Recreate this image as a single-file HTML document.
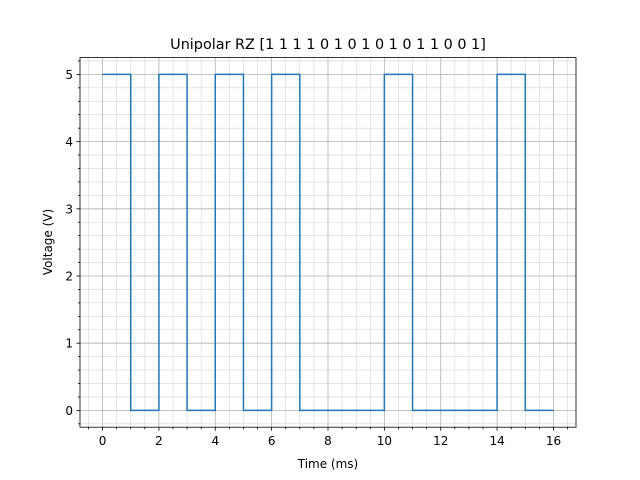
<!DOCTYPE html>
<html><head><meta charset="utf-8"><style>body{margin:0;background:#fff}svg{display:block;font-family:"DejaVu Sans","Liberation Sans",sans-serif}</style></head>
<body>
<svg id="chart" width="640" height="480" viewBox="0 0 640 480" xmlns="http://www.w3.org/2000/svg">
<rect width="640" height="480" fill="#fff"/>
<g id="grid"></g>
<path id="signal" fill="none" stroke="#1f77b4" stroke-width="1.5"/>
<rect x="80" y="57.6" width="496" height="369.6" fill="none" stroke="#000" stroke-width="0.8"/>
<g id="ticks"></g>
<text x="328" y="49" font-size="14.4" text-anchor="middle">Unipolar RZ [1 1 1 1 0 1 0 1 0 1 0 1 1 0 0 1]</text>
<text x="328" y="468" font-size="12" text-anchor="middle">Time (ms)</text>
<text transform="translate(52,242) rotate(-90)" font-size="12" text-anchor="middle">Voltage (V)</text>
</svg>
<script>
const segmentValues = [5,0,5,0,5,0,5,0,0,0,5,0,0,0,5,0];
const xTicks = [0,2,4,6,8,10,12,14,16];
const yTicks = [0,1,2,3,4,5];
const NS='http://www.w3.org/2000/svg';
const X0=80,X1=576,Y0=427.2,Y1=57.6,xmin=-0.8,xmax=16.8,ymin=-0.25,ymax=5.25;
const sx=v=>X0+(v-xmin)/(xmax-xmin)*(X1-X0);
const sy=v=>Y0-(v-ymin)/(ymax-ymin)*(Y0-Y1);
function mk(tag,attrs,parent){const e=document.createElementNS(NS,tag);for(const k in attrs)e.setAttribute(k,attrs[k]);parent.appendChild(e);return e;}
const grid=document.getElementById('grid'),ticks=document.getElementById('ticks');
for(let v=-0.5;v<=16.6;v+=0.5){const x=sx(v);const major=Math.abs(v/2-Math.round(v/2))<1e-6;
 const l=mk('line',{x1:x,x2:x,y1:Y1,y2:Y0,stroke:major?'#b0b0b0':'#d4d4d4','stroke-width':major?0.8:0.6},grid);
 
 
 const t=mk('line',{x1:x,x2:x,y1:Y0,y2:Y0+(major?3.5:2),stroke:'#000','stroke-width':0.8},ticks);
 
 }
for(let v=-0.2;v<=5.21;v+=0.2){const y=sy(v);const major=Math.abs(v-Math.round(v))<1e-6;
 const l=mk('line',{x1:X0,x2:X1,y1:y,y2:y,stroke:major?'#b0b0b0':'#d4d4d4','stroke-width':major?0.8:0.6},grid);
 
 
 const t=mk('line',{x1:X0,x2:X0-(major?3.5:2),y1:y,y2:y,stroke:'#000','stroke-width':0.8},ticks);
 
 }
xTicks.forEach(v=>{const t=mk('text',{x:sx(v),y:Y0+18,'font-size':12,'text-anchor':'middle'},ticks);t.textContent=v;
 
 });
yTicks.forEach(v=>{const t=mk('text',{x:X0-7,y:sy(v)+4.5,'font-size':12,'text-anchor':'end'},ticks);t.textContent=v;
 
 });
let d='';segmentValues.forEach((v,i)=>{d+=(i?'L':'M')+sx(i)+' '+sy(v)+'L'+sx(i+1)+' '+sy(v);});
document.getElementById('signal').setAttribute('d',d);
</script>
</body></html>
